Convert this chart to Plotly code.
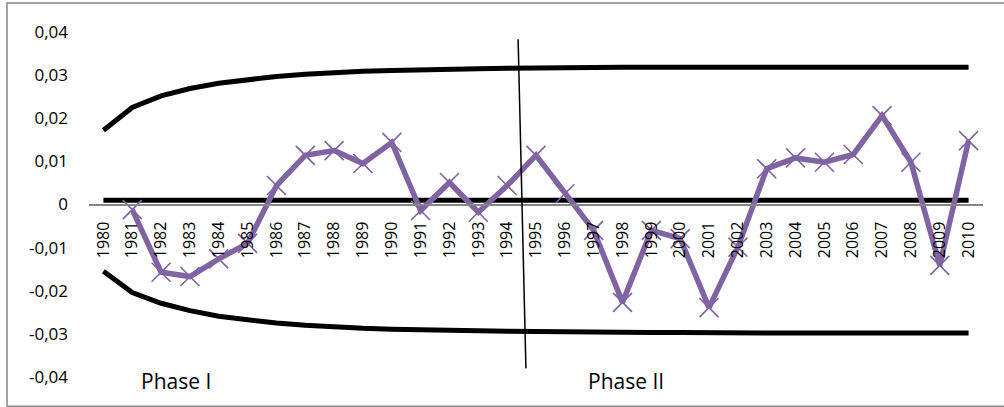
import plotly.graph_objects as go

years = [str(y) for y in range(1980, 2011)]

upper = [0.0172, 0.0225, 0.0252, 0.0269, 0.0281, 0.0290, 0.0297, 0.0302, 0.0306, 0.0309,
         0.0311, 0.0313, 0.0314, 0.0315, 0.0316, 0.0317, 0.0317, 0.0317, 0.0318, 0.0318,
         0.0318, 0.0318, 0.0318, 0.0318, 0.0318, 0.0318, 0.0318, 0.0318, 0.0318, 0.0318, 0.0318]
lower = [-0.0155, -0.0204, -0.0229, -0.0246, -0.0259, -0.0268, -0.0275, -0.0280, -0.0284, -0.0287,
         -0.0289, -0.0291, -0.0292, -0.0293, -0.0294, -0.0295, -0.0296, -0.0296, -0.0297, -0.0297,
         -0.0297, -0.0298, -0.0298, -0.0298, -0.0298, -0.0298, -0.0298, -0.0298, -0.0298, -0.0298, -0.0298]
center = [0.001] * 31

series = [None, -0.0012, -0.0157, -0.0167, -0.0126, -0.0090, 0.0044, 0.0114, 0.0125, 0.0095,
          0.0144, -0.0014, 0.0051, -0.0018, 0.0044, 0.0114, 0.0025, -0.0060, -0.0227, -0.0060,
          -0.0079, -0.0239, -0.0099, 0.0083, 0.0108, 0.0098, 0.0116, 0.0206, 0.0098, -0.0141, 0.0148]

ytick_vals = [-0.04, -0.03, -0.02, -0.01, 0, 0.01, 0.02, 0.03, 0.04]
ytick_text = ["-0,04", "-0,03", "-0,02", "-0,01", "0", "0,01", "0,02", "0,03", "0,04"]

phase_labels = ["Phase I", "Phase II"]

fig = go.Figure()
for ys in (upper, lower, center):
    fig.add_trace(go.Scatter(x=years, y=ys, mode="lines",
                             line=dict(color="black", width=5), showlegend=False,
                             hoverinfo="skip"))
fig.add_trace(go.Scatter(x=years, y=series, mode="lines+markers",
                         line=dict(color="#8064A2", width=5.5),
                         marker=dict(symbol="x-thin", size=19,
                                     line=dict(color="#8064A2", width=1.6)),
                         showlegend=False))

# vertical separator between phases (category index positions)
fig.add_shape(type="line", xref="x", yref="y", x0=14.38, y0=0.0383, x1=14.65, y1=-0.038,
              line=dict(color="black", width=1.5))
# outer chart border
fig.add_shape(type="rect", xref="paper", yref="paper", x0=-0.0917, y0=-0.0849, x1=1.2, y1=1.084,
              line=dict(color="#888888", width=1.5), fillcolor="rgba(0,0,0,0)", layer="below")

fig.add_annotation(text=phase_labels[0], xref="paper", yref="paper", x=0.0973, y=-0.0116,
                   xanchor="center", yanchor="middle",
                   showarrow=False, font=dict(family="Open Sans", size=21, color="black"))
fig.add_annotation(text=phase_labels[1], xref="paper", yref="paper", x=0.6007, y=-0.0116,
                   xanchor="center", yanchor="middle",
                   showarrow=False, font=dict(family="Open Sans", size=21, color="black"))

fig.update_layout(
    width=1004, height=407,
    margin=dict(l=89, r=21, t=32, b=30),
    paper_bgcolor="white", plot_bgcolor="white",
    font=dict(family="Open Sans", color="black"),
    xaxis=dict(type="category", range=[-0.5, 30.5], anchor="free", position=0.5,
               showline=True, linecolor="#868686", linewidth=1.5, showgrid=False,
               zeroline=False, ticks="", tickangle=-90, tickfont=dict(size=16),
               ticklabelstandoff=10),
    yaxis=dict(range=[-0.04, 0.04], tickvals=ytick_vals, ticktext=ytick_text,
               showgrid=False, zeroline=False, showline=False, ticks="",
               tickfont=dict(size=17), ticklabelstandoff=20),
)

fig.write_html("out.html", config={"displayModeBar": False},
               post_script="document.body.style.margin='0';")
